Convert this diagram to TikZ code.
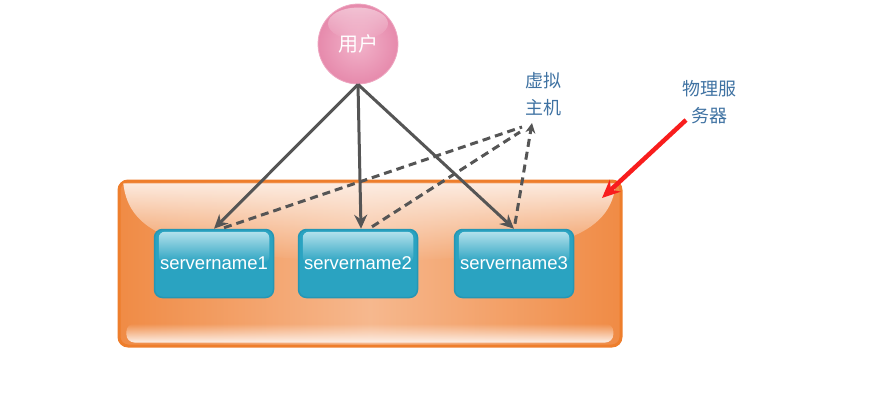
\documentclass[tikz,border=0pt]{standalone}
\usepackage{fontspec}
\setmainfont{Liberation Sans}
\newfontfamily\cjk{Noto Sans CJK SC}
\usepackage{tikz}
\usetikzlibrary{shapes,arrows,arrows.meta,positioning,calc,fadings}
\definecolor{hostedge}{HTML}{EE7E2C}
\definecolor{hostdark}{HTML}{F08B45}
\definecolor{hostlight}{HTML}{F6B88E}
\definecolor{hostgloss}{HTML}{FDEFE6}
\definecolor{srvedge}{HTML}{2596B4}
\definecolor{srvfill}{HTML}{2AA3C1}
\definecolor{srvgloss}{HTML}{B2E1EC}
\definecolor{userpink}{HTML}{E68AAC}
\definecolor{userlight}{HTML}{F2B3CA}
\definecolor{linkgray}{HTML}{555555}
\definecolor{labelblue}{HTML}{3F72A2}
\definecolor{markred}{HTML}{F81D1D}

\begin{document}
\begin{tikzpicture}[
    x=1pt, y=-1pt,
    host/.style={rectangle, rounded corners=9pt, draw=hostedge, line width=3pt, minimum width=502pt, minimum height=165pt, left color=hostdark, right color=hostdark, middle color=hostlight},
    server/.style={rectangle, rounded corners=8pt, draw=srvedge, line width=1.5pt, fill=srvfill, minimum width=119pt, minimum height=68pt},
    srvtext/.style={text=white, font=\fontsize{18.5}{22}\selectfont},
    user/.style={circle, draw=userlight!70!userpink, line width=0.8pt, inner color=userlight, outer color=userpink, minimum size=80pt},
    usertext/.style={text=white, font=\cjk\fontsize{20}{24}\selectfont},
    tag/.style={align=center, text=labelblue, font=\cjk\fontsize{18}{27}\selectfont},
    link/.style={-{Stealth[length=14pt,width=13pt]}, draw=linkgray, fill=linkgray, line width=3pt},
    vlink/.style={draw=linkgray, line width=3pt, dash pattern=on 8pt off 5pt},
    redlink/.style={-{Stealth[length=18pt,width=16pt]}, draw=markred, fill=markred, line width=4.5pt}
]
\useasboundingbox (0,0) rectangle (869,407);

\node[host] (hostbox) at (370,263.5) {};
\fill[hostgloss, path fading=south, opacity=0.95]
    ($(hostbox.north west)+(6,4)$) -- ($(hostbox.north east)+(-6,4)$)
    .. controls ($(hostbox.north east)+(-12,55)$) and ($(hostbox.north east)+(-60,78)$) .. ($(hostbox.north)+(0,82)$)
    .. controls ($(hostbox.north west)+(60,78)$) and ($(hostbox.north west)+(12,55)$) .. cycle;
\fill[hostgloss, path fading=north, rounded corners=8pt]
    ($(hostbox.south west)+(9,-24)$) rectangle ($(hostbox.south east)+(-9,-5)$);

\node[server] (s1) at (214,263.5) {};
\node[server] (s2) at (358,263.5) {};
\node[server] (s3) at (514,263.5) {};
\foreach \s in {s1,s2,s3} {
  \fill[srvgloss, path fading=south, rounded corners=6pt]
      ($(\s.north west)+(5,3)$) rectangle ($(\s.north east)+(-5,34)$);
}
\node[srvtext] at (s1) {servername1};
\node[srvtext] at (s2) {servername2};
\node[srvtext] at (s3) {servername3};

\node[user] (usr) at (358,44) {};
\fill[white, path fading=south, opacity=0.45]
    ($(usr.north)+(0,20)$) ellipse (30 and 16);
\node[usertext] at (usr) {用户};

\node[tag] (vm) at (543,94) {虚拟\\主机};
\node[tag] (phys) at (709,102) {物理服\\务器};

\coordinate (vmtip) at (532,123);
\coordinate (physfrom) at (686,120);
\coordinate (hostcorner) at (602,198);

\draw[link] (usr.south) -- (s1.north);
\draw[link] (usr.south) -- ($(s2.north)+(3,0)$);
\draw[link] (usr.south) -- (s3.north);

\draw[vlink] ($(s1.north)+(10,-1)$) -- ($(vmtip)+(-10,4)$);
\draw[vlink] ($(s2.north)+(14,-2)$) -- ($(vmtip)+(-12,9)$);
\draw[vlink, -{Stealth[length=10pt,width=10pt,fill=linkgray]}] ($(s3.north)+(1,-5)$) -- (vmtip);

\draw[redlink] (physfrom) -- (hostcorner);
\end{tikzpicture}
\end{document}
